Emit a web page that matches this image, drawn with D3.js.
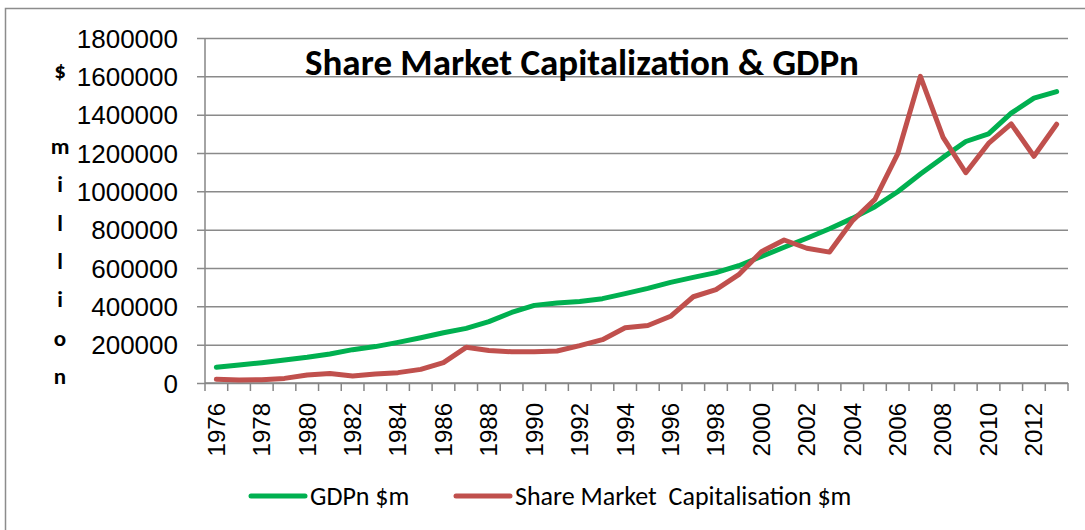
<!DOCTYPE html>
<html>
<head>
<meta charset="utf-8">
<script src="https://cdn.jsdelivr.net/npm/d3@7"></script>
<style>
  body { margin: 0; background: #fff; }
  svg { font-family: Carlito, Lato, sans-serif; }
</style>
</head>
<body>
<svg></svg>
<script>
var WIDTH = 1085;
var HEIGHT = 530;

// data ($ million)
var years = [1976, 1977, 1978, 1979, 1980, 1981, 1982, 1983, 1984, 1985,
    1986, 1987, 1988, 1989, 1990, 1991, 1992, 1993, 1994, 1995,
    1996, 1997, 1998, 1999, 2000, 2001, 2002, 2003, 2004, 2005,
    2006, 2007, 2008, 2009, 2010, 2011, 2012, 2013];
var gdp = [82000, 94000, 106000, 120000, 134000, 151000, 174000, 190000, 212000, 236000,
    262000, 285000, 320000, 368000, 405000, 417000, 425000, 440000, 466000, 494000,
    525000, 551000, 576000, 612000, 660000, 708000, 755000, 805000, 859000, 920000,
    998000, 1090000, 1177000, 1260000, 1300000, 1408000, 1486000, 1520000];
var shareCap = [19000, 16000, 17000, 24000, 42000, 50000, 37000, 47000, 54000, 71000,
    106000, 186000, 170000, 163000, 163000, 167000, 195000, 226000, 288000, 300000,
    348000, 450000, 487000, 565000, 685000, 746000, 703000, 683000, 845000, 958000,
    1195000, 1600000, 1282000, 1097000, 1250000, 1352000, 1183000, 1350000];
var yTicks = [0, 200000, 400000, 600000, 800000, 1000000, 1200000, 1400000, 1600000, 1800000];
var yLabelLetters = ['$', 'm', 'i', 'l', 'l', 'i', 'o', 'n'];
var seriesNames = ['GDPn $m', 'Share Market  Capitalisation $m'];
var seriesColors = ['#00B050', '#C0504D'];

var svg = d3.select('svg')
    .attr('width', WIDTH)
    .attr('height', HEIGHT);

// outer chart border
svg.append('rect')
    .attr('x', 5.5).attr('y', 8.5)
    .attr('width', 1090).attr('height', 530)
    .attr('fill', 'none')
    .attr('stroke', '#8c8c8c')
    .attr('stroke-width', 1.5);

var plotLeft = 205, plotRight = 1068, plotTop = 38, plotBottom = 383;

var xScale = d3.scaleBand().domain(years).range([plotLeft, plotRight]).padding(0);
var yScale = d3.scaleLinear().domain([0, 1800000]).range([plotBottom, plotTop]);

// gridlines + y axis
var yAxis = d3.axisLeft(yScale)
    .tickValues(yTicks)
    .tickSize(-(plotRight - plotLeft))
    .tickSizeOuter(0)
    .tickFormat(d3.format('d'));
var gy = svg.append('g')
    .attr('transform', 'translate(' + plotLeft + ',0)')
    .call(yAxis);
gy.select('.domain').attr('stroke', '#868686').attr('stroke-width', 1.5)
    .attr('d', 'M0,' + plotTop + 'V' + plotBottom);
gy.selectAll('.tick line')
    .attr('x1', -8)
    .attr('stroke', '#8a8a8a')
    .attr('stroke-width', 1.5);
gy.selectAll('.tick text')
    .attr('font-size', 26)
    .attr('fill', '#000')
    .attr('x', -27)
    .attr('dy', '0.35em');

// x axis line and ticks between categories
svg.append('line')
    .attr('x1', plotLeft).attr('x2', plotRight)
    .attr('y1', plotBottom).attr('y2', plotBottom)
    .attr('stroke', '#868686').attr('stroke-width', 1.5);
var boundaries = years.map(function(y){ return xScale(y); }).concat([plotRight]);
svg.append('g').selectAll('line')
    .data(boundaries)
    .enter()
    .append('line')
    .attr('x1', function(d){ return d; })
    .attr('x2', function(d){ return d; })
    .attr('y1', plotBottom)
    .attr('y2', plotBottom + 8)
    .attr('stroke', '#868686')
    .attr('stroke-width', 1.5);

var xAxis = d3.axisBottom(xScale)
    .tickValues(years.filter(function(y){ return y % 2 === 0; }))
    .tickSize(0)
    .tickFormat(d3.format('d'));
var gx = svg.append('g')
    .attr('transform', 'translate(0,' + plotBottom + ')')
    .call(xAxis);
gx.select('.domain').remove();
gx.selectAll('.tick text')
    .attr('font-size', 24)
    .attr('fill', '#000')
    .attr('transform', 'rotate(-90)')
    .attr('text-anchor', 'end')
    .attr('x', -20)
    .attr('y', 0)
    .attr('dy', '0.35em');

// lines
var seriesData = [gdp, shareCap];
var line = d3.line()
    .x(function(d, i){ return xScale(years[i]) + xScale.bandwidth() / 2; })
    .y(function(d){ return yScale(d); });
svg.append('g').selectAll('path')
    .data(seriesData)
    .enter()
    .append('path')
    .attr('d', line)
    .attr('fill', 'none')
    .attr('stroke', function(d, i){ return seriesColors[i]; })
    .attr('stroke-width', 5)
    .attr('stroke-linejoin', 'round')
    .attr('stroke-linecap', 'round');

// title
svg.append('text')
    .attr('x', 582).attr('y', 75)
    .attr('text-anchor', 'middle')
    .attr('font-size', 37)
    .attr('font-weight', 'bold')
    .text('Share Market Capitalization & GDPn');

// vertical y label
svg.append('g').selectAll('text')
    .data(yLabelLetters)
    .enter()
    .append('text')
    .attr('x', 60)
    .attr('y', function(d, i){ return i === 0 ? 78 : 154 + (i - 1) * 38.3; })
    .attr('text-anchor', 'middle')
    .attr('font-size', 23)
    .attr('font-weight', 'bold')
    .text(function(d){ return d; });

// legend
var legendX = [251, 456];
var leg = svg.append('g').selectAll('g')
    .data(seriesNames)
    .enter()
    .append('g')
    .attr('transform', function(d, i){ return 'translate(' + legendX[i] + ',496)'; });
leg.append('line')
    .attr('x1', 0).attr('x2', 54)
    .attr('stroke', function(d, i){ return seriesColors[i]; })
    .attr('stroke-width', 5)
    .attr('stroke-linecap', 'round');
leg.append('text')
    .attr('x', 59)
    .attr('dy', '0.35em')
    .attr('font-size', 26)
    .style('white-space', 'pre')
    .text(function(d){ return d; });
</script>
</body>
</html>
